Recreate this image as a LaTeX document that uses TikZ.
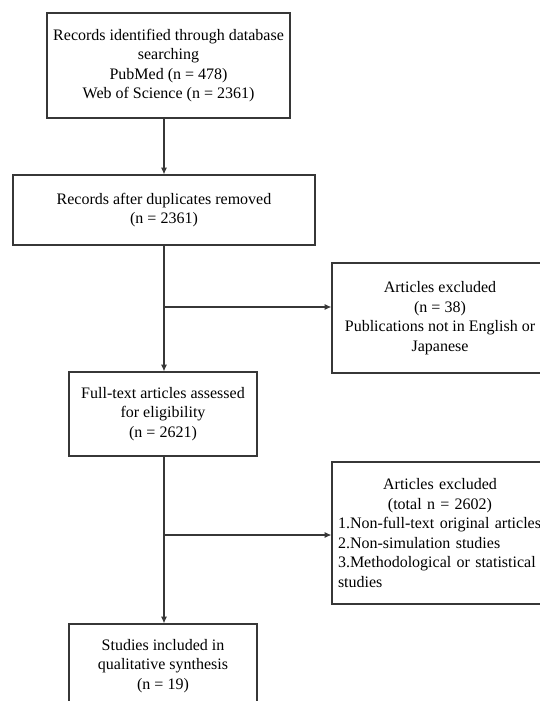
\documentclass[tikz,border=0pt]{standalone}
\usepackage{fontspec}
\setmainfont{Liberation Serif}
\usepackage{tikz}
\usepackage{xcolor}
\usetikzlibrary{arrows.meta}
\definecolor{boxline}{RGB}{55,55,55}

\begin{document}
\begin{tikzpicture}[every node/.style={font=\fontsize{12}{14.6}\selectfont}]
\tikzstyle{box}=[draw=boxline, line width=0.9pt, align=center, inner sep=2pt]
\useasboundingbox (0,0) rectangle (405pt,-525.75pt);
\node[box, minimum width=182.25pt, minimum height=78.75pt] (search) at (126.4pt,-49.1pt) {Records identified through database\\searching\\PubMed (n = 478)\\Web of Science (n = 2361)};
\node[box, minimum width=226.5pt, minimum height=52.5pt] (dedup) at (123pt,-157.5pt) {Records after duplicates removed\\(n = 2361)};
\node[box, minimum width=162pt, minimum height=82.5pt] (excllang) at (330pt,-238.5pt) {Articles excluded\\(n = 38)\\Publications not in English or\\Japanese};
\node[box, minimum width=141pt, minimum height=63pt] (fulltext) at (122.25pt,-310.5pt) {Full-text articles assessed\\for eligibility\\(n = 2621)};
\node[box, minimum width=162pt, minimum height=106.5pt, text width=153pt, align=left] (exclfull) at (330pt,-399.75pt) {{\centering Articles excluded\\(total n = 2602)\par}\hyphenpenalty=10000 1.Non-full-text original articles\\2.Non-simulation studies\\3.Methodological or statistical\\studies};
\node[box, minimum width=141pt, minimum height=63pt] (included) at (122.25pt,-499.5pt) {Studies included in\\qualitative synthesis\\(n = 19)};
\coordinate (axis) at (123pt,0);
\coordinate (split1) at (123pt,-230.25pt);
\coordinate (split2) at (123pt,-401.25pt);
\draw[boxline, line width=0.8pt, -{Latex[length=5pt,width=4.5pt]}] (search.south -| axis) -- (dedup.north -| axis);
\draw[boxline, line width=0.8pt, -{Latex[length=5pt,width=4.5pt]}] (dedup.south -| axis) -- (fulltext.north -| axis);
\draw[boxline, line width=0.8pt, -{Latex[length=5pt,width=4.5pt]}] (split1) -- (split1 -| excllang.west);
\draw[boxline, line width=0.8pt, -{Latex[length=5pt,width=4.5pt]}] (fulltext.south -| axis) -- (included.north -| axis);
\draw[boxline, line width=0.8pt, -{Latex[length=5pt,width=4.5pt]}] (split2) -- (split2 -| exclfull.west);
\end{tikzpicture}
\end{document}
